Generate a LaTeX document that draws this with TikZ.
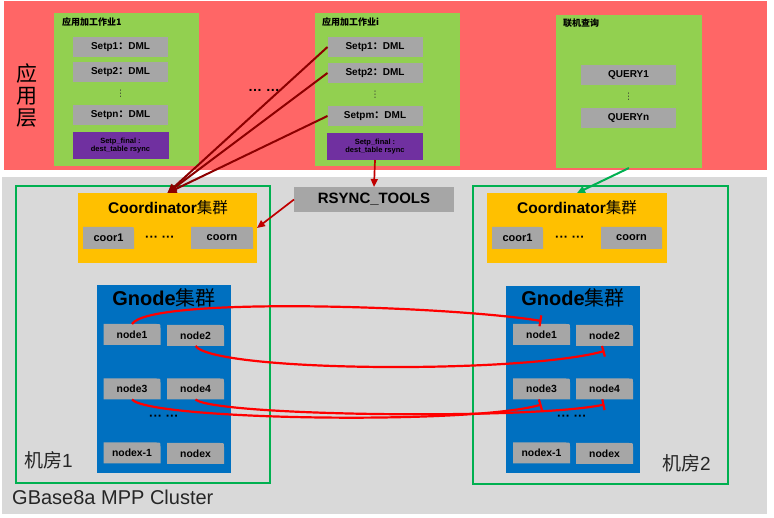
\documentclass[tikz,border=0pt]{standalone}
\usepackage{fontspec}
\setmainfont{Liberation Sans}
\newfontfamily\cjk{Noto Sans CJK SC}
\newfontfamily\dejavu{DejaVu Sans}
\usetikzlibrary{arrows.meta}
\pgfdeclarelayer{bg}
\pgfdeclarelayer{mid}
\pgfsetlayers{bg,mid,main}
\definecolor{redbg}{RGB}{255,102,102}
\definecolor{appgreen}{RGB}{146,208,80}
\definecolor{boxgray}{RGB}{166,166,166}
\definecolor{purp}{RGB}{112,48,160}
\definecolor{lgray}{RGB}{217,217,217}
\definecolor{fgreen}{RGB}{0,176,80}
\definecolor{yel}{RGB}{255,192,0}
\definecolor{blu}{RGB}{0,112,192}
\definecolor{dred}{RGB}{140,0,0}
\definecolor{mred}{RGB}{192,0,0}
\definecolor{bred}{RGB}{255,0,0}
\tikzset{
  cont/.style={inner sep=0pt, outer sep=0pt, draw=none},
  sbox/.style={inner sep=0pt, outer sep=0pt, fill=boxgray, minimum width=95pt, minimum height=20pt, font=\bfseries\fontsize{10}{12}\selectfont},
  pbox/.style={inner sep=0pt, outer sep=0pt, fill=purp, minimum width=96pt, minimum height=27pt, align=center, font=\bfseries\fontsize{7.5}{8.5}\selectfont},
  cbox/.style={inner sep=0pt, outer sep=0pt, minimum height=22pt, font=\bfseries\fontsize{11}{13}\selectfont},
  nbox/.style={inner sep=0pt, outer sep=0pt, minimum width=57pt, minimum height=21pt, font=\bfseries\fontsize{10.4}{12}\selectfont},
  apptitle/.style={anchor=west, inner sep=0pt, font=\cjk\bfseries\fontsize{9}{11}\selectfont},
  vdot/.style={inner sep=0pt, text=black!80, font=\dejavu\fontsize{9}{9}\selectfont},
  hdot/.style={inner sep=0pt, font=\bfseries\fontsize{13}{14}\selectfont},
  room/.style={inner sep=0pt, anchor=west, text=black!85, font=\fontsize{19}{21}\selectfont},
  darr/.style={draw=dred, line width=2pt, -{Triangle[length=9pt,width=8pt]}},
  rarr/.style={draw=mred, line width=1.7pt, -{Triangle[length=8pt,width=7pt]}},
  garr/.style={draw=fgreen, line width=2pt, -{Triangle[length=8pt,width=7pt]}},
  curv/.style={draw=bred, line width=2.2pt, -{Bar[width=11pt,line width=2.2pt]}},
}
\begin{document}
\begin{tikzpicture}[x=1pt,y=-1pt]
\useasboundingbox (0,0) rectangle (774,518);
\begin{pgfonlayer}{bg}
  % backgrounds
  \node[cont, fill=redbg, minimum width=763pt, minimum height=169pt] (applayer) at (385.5,85.5) {};
  \node[cont, fill=lgray, minimum width=765pt, minimum height=337pt] (cluster) at (384.5,345.5) {};
  % app boxes
  \node[cont, fill=appgreen, minimum width=145pt, minimum height=153pt] (app1) at (126.5,89.5) {};
  \node[cont, fill=appgreen, minimum width=145pt, minimum height=153pt] (appi) at (387.5,89.5) {};
  \node[cont, fill=appgreen, minimum width=146pt, minimum height=153pt] (query) at (629,91.5) {};
  % rooms
  \node[cont, draw=fgreen, line width=1.3pt, minimum width=254pt, minimum height=297pt] (room1) at (143,334.5) {};
  \node[cont, draw=fgreen, line width=1.3pt, minimum width=255pt, minimum height=298pt] (room2) at (600.5,335) {};
  % coordinator clusters
  \node[cont, fill=yel, minimum width=179pt, minimum height=70pt] (coord1) at (167.5,228) {};
  \node[cont, fill=yel, minimum width=180pt, minimum height=70pt] (coord2) at (577,228) {};
  % gnode clusters
  \node[cont, fill=blu, minimum width=134pt, minimum height=188pt] (gnode1) at (164,379) {};
  \node[cont, fill=blu, minimum width=134pt, minimum height=187pt] (gnode2) at (573,379.5) {};
\end{pgfonlayer}

% application layer label
\node[inner sep=0pt, align=center, font=\cjk\fontsize{21}{22}\selectfont] (layerlbl) at (27,96) {应\\用\\层};

% app job 1
\node[apptitle] (t1) at (62,22) {应用加工作业1};
\node[sbox] (s11) at (120.5,47) {Setp1{\cjk ：}DML};
\node[sbox] (s12) at (120.5,72.5) {Setp2{\cjk ：}DML};
\node[vdot] (v1) at (120.5,94) {⋮};
\node[sbox] (s1n) at (120.5,115) {Setpn{\cjk ：}DML};
\node[pbox] (p1) at (120.5,145.5) {Setp\_final :\\dest\_table rsync};

% middle dots
\node[inner sep=0pt, font=\bfseries\fontsize{14}{16}\selectfont] (mdots) at (264,90) {…\ …};

% app job i
\node[apptitle] (ti) at (322,22) {应用加工作业i};
\node[sbox] (si1) at (375,47) {Setp1{\cjk ：}DML};
\node[sbox] (si2) at (375,73) {Setp2{\cjk ：}DML};
\node[vdot] (vi) at (375,95) {⋮};
\node[sbox] (sim) at (375,116) {Setpm{\cjk ：}DML};
\node[pbox] (pi) at (375,146.5) {Setp\_final :\\dest\_table rsync};

% online query
\node[apptitle] (tq) at (563,23) {联机查询};
\node[sbox] (q1) at (628.5,75) {QUERY1};
\node[vdot] (vq) at (628.5,97) {⋮};
\node[sbox] (qn) at (628.5,118) {QUERYn};

% rsync tools
\node[inner sep=0pt, outer sep=0pt, fill=boxgray, minimum width=160pt, minimum height=25pt, font=\bfseries\fontsize{15}{17}\selectfont] (rsync) at (374,199.5) {RSYNC\_TOOLS};

% coordinator titles and boxes
\node[inner sep=0pt] (ct1) at (168,208) {\bfseries\fontsize{15.5}{17}\selectfont Coordinator{\cjk\mdseries 集群}};
\node[cbox, minimum width=51pt] (coor1a) at (108.5,238) {coor1};
\node[hdot] (cd1) at (160,239) {··· ···};
\node[cbox, minimum width=62pt] (coorna) at (222,238) {coorn};

\node[inner sep=0pt] (ct2) at (577,208) {\bfseries\fontsize{15.5}{17}\selectfont Coordinator{\cjk\mdseries 集群}};
\node[cbox, minimum width=51pt] (coor1b) at (517.5,238) {coor1};
\node[hdot] (cd2) at (570,239) {··· ···};
\node[cbox, minimum width=61pt] (coornb) at (631.5,238) {coorn};

% gnode titles and boxes
\node[inner sep=0pt] (gt1) at (164,298) {\bfseries\fontsize{20}{22}\selectfont Gnode{\cjk\mdseries 集群}};
\node[nbox] (n1a) at (132,334.5) {node1};
\node[nbox] (n2a) at (195.5,335.5) {node2};
\node[nbox] (n3a) at (132,389) {node3};
\node[nbox] (n4a) at (195.5,389) {node4};
\node[hdot] (gd1) at (164,418) {··· ···};
\node[nbox] (nxma) at (132,453) {nodex-1};
\node[nbox] (nxa) at (195.5,453.5) {nodex};

\node[inner sep=0pt] (gt2) at (573,298) {\bfseries\fontsize{20}{22}\selectfont Gnode{\cjk\mdseries 集群}};
\node[nbox] (n1b) at (541.5,334.5) {node1};
\node[nbox] (n2b) at (604.5,335.5) {node2};
\node[nbox] (n3b) at (541.5,389) {node3};
\node[nbox] (n4b) at (604.5,389) {node4};
\node[hdot] (gd2) at (572,418) {··· ···};
\node[nbox] (nxmb) at (541.5,453) {nodex-1};
\node[nbox] (nxb) at (604.5,453.5) {nodex};

% rounded-corner gray fills for coor / node boxes
\begin{pgfonlayer}{mid}
\foreach \n in {coor1a,coorna,coor1b,coornb,n1a,n2a,n3a,n4a,nxma,nxa,n1b,n2b,n3b,n4b,nxmb,nxb}
  \fill[boxgray] (\n.south west) |- ([xshift=-4pt]\n.north east) .. controls (\n.north east) .. ([yshift=-4pt]\n.north east) -- (\n.south east) -- cycle;
\end{pgfonlayer}

% room labels
\node[room] (r1) at (24,460) {{\cjk 机房}1};
\node[room] (r2) at (662,463) {{\cjk 机房}2};
\node[room, font=\fontsize{20}{22}\selectfont] (gb) at (12,497) {GBase8a MPP Cluster};

% arrows
\draw[darr] (si1.west) -- (coord1.north);
\draw[darr] (si2.west) -- (coord1.north);
\draw[darr] (sim.west) -- (coord1.north);
\draw[rarr] (pi.south) -- (rsync.north);
\draw[rarr] (rsync.west) -- (coord1.east);
\draw[garr] (query.south) -- (coord2.north);

% replication curves
\draw[curv] (n1a.north) .. controls (150,296) and (450,306) .. ([yshift=3pt]n1b.north);
\draw[curv] (n2a.south) .. controls (215,372) and (520,374) .. ([yshift=-5pt]n2b.south);
\draw[curv] (n3a.south) .. controls (150,420) and (470,425) .. ([yshift=-5pt]n3b.south);
\draw[curv] (n4a.south) .. controls (215,416) and (530,420) .. ([yshift=-5pt]n4b.south);
\end{tikzpicture}
\end{document}
